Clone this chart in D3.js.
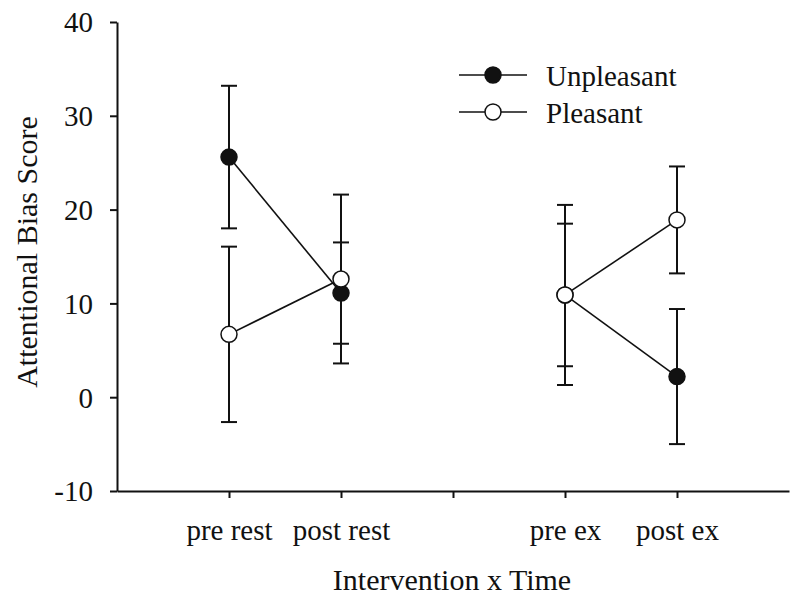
<!DOCTYPE html>
<html><head><meta charset="utf-8">
<script src="https://cdn.jsdelivr.net/npm/d3@7"></script>
<style>body{margin:0;background:#fff}text{font-family:"Liberation Serif","Times New Roman",serif;fill:#111}</style>
</head><body><svg id="c" width="800" height="604"></svg>
<script>
const categories = ["pre rest", "post rest", "", "pre ex", "post ex"];
const catPos = [1, 2, 3, 4, 5];
const yTicks = [-10, 0, 10, 20, 30, 40];
// [position, mean, error]
const unpleasant = [[1, 25.6, 7.6], [2, 11.1, 5.4], [4, 10.9, 7.6], [5, 2.2, 7.2]];
const pleasant   = [[1, 6.7, 9.35], [2, 12.6, 9.0], [4, 10.9, 9.6], [5, 18.9, 5.7]];
const segments = [[1, 2], [4, 5]];

const svg = d3.select("#c");
const x = d3.scaleLinear().domain([0, 6]).range([117, 789]);
const y = d3.scaleLinear().domain([-10, 40]).range([491, 22]);
const col = "#111";

// axes
const xa = svg.append("g").attr("transform", "translate(0,491)")
  .call(d3.axisBottom(x).tickValues(catPos).tickFormat((d, i) => categories[i]).tickSize(7).tickSizeOuter(0));
const ya = svg.append("g").attr("transform", "translate(117,0)")
  .call(d3.axisLeft(y).tickValues(yTicks).tickFormat(d => String(d)).tickSize(7).tickSizeOuter(0));
[xa, ya].forEach(g => {
  g.select(".domain").attr("stroke", col).attr("stroke-width", 2);
  g.selectAll(".tick line").attr("stroke", col).attr("stroke-width", 2);
  g.selectAll(".tick text").style("font-size", "29px").attr("fill", col);
});
xa.selectAll(".tick text").attr("dy", null).attr("y", 49);
ya.selectAll(".tick text").attr("dy", "0.34em").attr("x", -24);

svg.append("text").attr("x", 452).attr("y", 590).attr("text-anchor", "middle")
  .style("font-size", "30px").text("Intervention x Time");
svg.append("text").attr("transform", "translate(37,252) rotate(-90)").attr("text-anchor", "middle")
  .style("font-size", "30px").text("Attentional Bias Score");

function drawSeries(data, filled) {
  const g = svg.append("g");
  const byPos = new Map(data.map(d => [d[0], d]));
  data.forEach(d => {
    const cx = x(d[0]);
    g.append("line").attr("x1", cx).attr("x2", cx).attr("y1", y(d[1] + d[2])).attr("y2", y(d[1] - d[2]))
      .attr("stroke", col).attr("stroke-width", 2);
    [d[1] + d[2], d[1] - d[2]].forEach(v => {
      g.append("line").attr("x1", cx - 8).attr("x2", cx + 8).attr("y1", y(v)).attr("y2", y(v))
        .attr("stroke", col).attr("stroke-width", 2);
    });
  });
  const line = d3.line().x(d => x(d[0])).y(d => y(d[1]));
  segments.forEach(s => {
    g.append("path").attr("d", line(s.map(p => byPos.get(p)))).attr("fill", "none")
      .attr("stroke", col).attr("stroke-width", 1.6);
  });
  data.forEach(d => {
    g.append("circle").attr("cx", x(d[0])).attr("cy", y(d[1])).attr("r", 8)
      .attr("fill", filled ? col : "#fff").attr("stroke", col).attr("stroke-width", 1.5);
  });
}
drawSeries(unpleasant, true);
drawSeries(pleasant, false);

// legend
const legend = [["Unpleasant", true, 75], ["Pleasant", false, 112]];
legend.forEach(([name, filled, ly]) => {
  svg.append("line").attr("x1", 459).attr("x2", 527).attr("y1", ly).attr("y2", ly)
    .attr("stroke", col).attr("stroke-width", 1.6);
  svg.append("circle").attr("cx", 493).attr("cy", ly).attr("r", 8)
    .attr("fill", filled ? col : "#fff").attr("stroke", col).attr("stroke-width", 1.5);
  svg.append("text").attr("x", 546).attr("y", ly + 11).style("font-size", "29px").text(name);
});
</script></body></html>
